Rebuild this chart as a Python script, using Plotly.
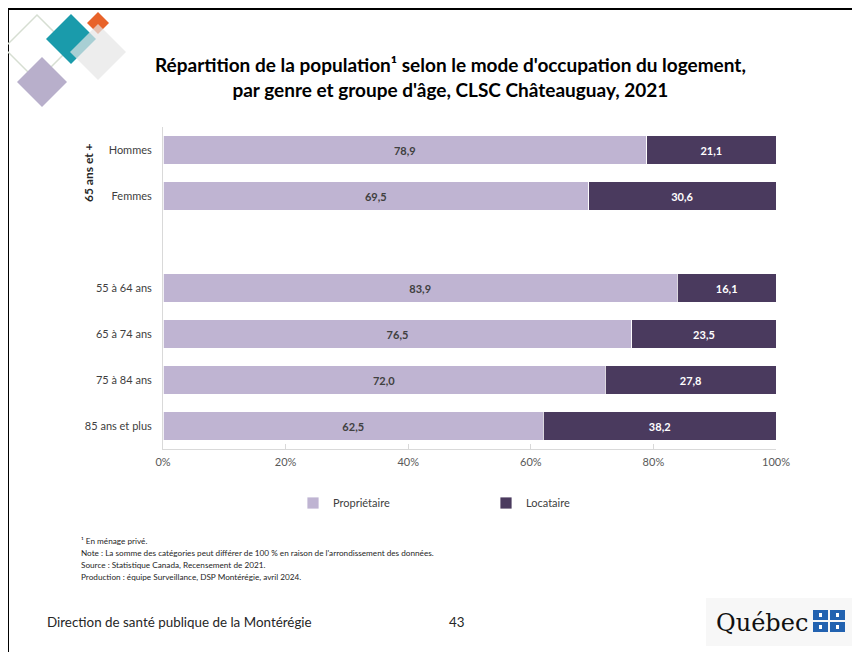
import plotly.graph_objects as go

# ---------------- data ----------------
categories = ["Hommes", "Femmes", " ", "55 à 64 ans", "65 à 74 ans", "75 à 84 ans", "85 ans et plus"]
proprietaire = [78.9, 69.5, None, 83.9, 76.5, 72.0, 62.5]
locataire = [21.1, 30.6, None, 16.1, 23.5, 27.8, 38.2]
series_names = ["Propriétaire", "Locataire"]
x_ticks = [0, 20, 40, 60, 80, 100]
x_ticktext = ["0%", "20%", "40%", "60%", "80%", "100%"]

title_text = ("Répartition de la population¹ selon le mode d'occupation du logement,<br>"
              "par genre et groupe d'âge, CLSC Châteauguay, 2021")
group_label = "65 ans et +"
footnotes = [
    "¹ En ménage privé.",
    "Note : La somme des catégories peut différer de 100 % en raison de l'arrondissement des données.",
    "Source : Statistique Canada, Recensement de 2021.",
    "Production : équipe Surveillance, DSP Montérégie, avril 2024.",
]
footer_left = "Direction de santé publique de la Montérégie"
page_number = "43"

# ---------------- layout helpers ----------------
OFF = 8  # page body margin
W, H = 852, 644
ML, MR, MT, MB = 155, 84, 119, 203
PW, PH = W - ML - MR, H - MT - MB
FONT = "Lato"
LIGHT = "#BFB4D2"
DARK = "#4A3A5E"


def px(x):  # screen pixel -> paper
    return (x - OFF - ML) / PW


def py(y):
    return (H - MB - (y - OFF)) / PH


def fmt(v):
    return "" if v is None else f"{v:.1f}".replace(".", ",")


fig = go.Figure()
fig.add_trace(go.Bar(
    y=categories, x=proprietaire, orientation="h", name=series_names[0],
    marker=dict(color=LIGHT, line=dict(color="white", width=0.8)),
    text=[fmt(v) for v in proprietaire], textposition="inside",
    insidetextanchor="middle", textangle=0,
    textfont=dict(family=FONT, size=11, color="#404040", weight="bold"),
    hoverinfo="skip",
))
fig.add_trace(go.Bar(
    y=categories, x=locataire, orientation="h", name=series_names[1],
    marker=dict(color=DARK, line=dict(color="white", width=0.8)),
    text=[fmt(v) for v in locataire], textposition="inside",
    insidetextanchor="middle", textangle=0,
    textfont=dict(family=FONT, size=11, color="white", weight="bold"),
    hoverinfo="skip",
))

shapes = []
annotations = []

# outer slide frame
shapes.append(dict(type="rect", xref="paper", yref="paper",
                   x0=px(8), x1=px(857), y0=py(664), y1=py(9),
                   line=dict(color="black", width=2), fillcolor="rgba(0,0,0,0)", layer="below"))


def diamond(cx, cy, r, fill=None, line=None, opacity=1.0):
    path = (f"M {px(cx)},{py(cy - r)} L {px(cx + r)},{py(cy)} "
            f"L {px(cx)},{py(cy + r)} L {px(cx - r)},{py(cy)} Z")
    d = dict(type="path", xref="paper", yref="paper", path=path, opacity=opacity,
             fillcolor=fill if fill else "rgba(0,0,0,0)",
             line=dict(color=line if line else "rgba(0,0,0,0)", width=1.5 if line else 0))
    shapes.append(d)


# decorative logo, top-left
diamond(37, 48, 33, line="#D6DED2")
diamond(42, 82, 25, fill="#B8AFCB")
diamond(71, 39, 25, fill="#1A9BAB")
diamond(98, 23, 11, fill="#E8632A")
diamond(98, 52, 28, fill="#E6E6E6", opacity=0.7)

# Québec logo box
shapes.append(dict(type="rect", xref="paper", yref="paper",
                   x0=px(706), x1=px(855), y0=py(646), y1=py(598),
                   fillcolor="#F7F7F7", line=dict(width=0), layer="below"))
for (x0, y0) in [(813, 610), (830, 610), (813, 622), (830, 622)]:
    shapes.append(dict(type="rect", xref="paper", yref="paper",
                       x0=px(x0), x1=px(x0 + 15), y0=py(y0 + 10), y1=py(y0),
                       fillcolor="#2262B0", line=dict(width=0)))
    shapes.append(dict(type="rect", xref="paper", yref="paper",
                       x0=px(x0 + 6), x1=px(x0 + 9), y0=py(y0 + 7), y1=py(y0 + 3),
                       fillcolor="white", line=dict(width=0)))

# title
annotations.append(dict(text="<b>" + title_text + "</b>", xref="paper", yref="paper",
                        x=px(450), y=py(77), xanchor="center", yanchor="middle",
                        showarrow=False, align="center",
                        font=dict(family=FONT, size=19, color="black")))
# group label
annotations.append(dict(text="<b>" + group_label + "</b>", xref="paper", yref="paper",
                        x=px(88), y=py(173), xanchor="center", yanchor="middle",
                        showarrow=False, textangle=-90,
                        font=dict(family=FONT, size=12, color="#262626")))
# footnotes
for i, t in enumerate(footnotes):
    annotations.append(dict(text=t, xref="paper", yref="paper",
                            x=px(79), y=py(541 + 12 * i), xanchor="left", yanchor="middle",
                            showarrow=False, font=dict(family=FONT, size=8.2, color="#262626")))
# footer
annotations.append(dict(text=footer_left, xref="paper", yref="paper",
                        x=px(45), y=py(622), xanchor="left", yanchor="middle",
                        showarrow=False, font=dict(family=FONT, size=13.4, color="#262626")))
annotations.append(dict(text=page_number, xref="paper", yref="paper",
                        x=px(457), y=py(622), xanchor="center", yanchor="middle",
                        showarrow=False, font=dict(family=FONT, size=13.4, color="#262626")))
annotations.append(dict(text="Québec", xref="paper", yref="paper",
                        x=px(810), y=py(623), xanchor="right", yanchor="middle",
                        showarrow=False, font=dict(family="DejaVu Serif", size=24, color="#111111")))

fig.update_layout(
    width=W, height=H,
    margin=dict(l=ML, r=MR, t=MT, b=MB, pad=0),
    paper_bgcolor="white", plot_bgcolor="white",
    barmode="stack", barnorm="percent", bargap=0.39,
    font=dict(family=FONT, size=11, color="#404040"),
    showlegend=True,
    legend=dict(orientation="h", x=px(293), y=py(503), xanchor="left", yanchor="middle",
                entrywidth=148, entrywidthmode="pixels", itemwidth=30,
                font=dict(family=FONT, size=11, color="#404040"),
                bgcolor="rgba(0,0,0,0)", borderwidth=0, traceorder="normal"),
    shapes=shapes, annotations=annotations,
)
fig.update_xaxes(range=[0, 100], tickmode="array", tickvals=x_ticks, ticktext=x_ticktext,
                 showgrid=False, zeroline=False, showline=True, linecolor="#D9D9D9", linewidth=1,
                 ticks="inside", ticklen=5, tickcolor="#D9D9D9", ticklabelstandoff=3,
                 tickfont=dict(family=FONT, size=11, color="#595959"), fixedrange=True)
fig.update_yaxes(type="category", categoryorder="array", categoryarray=categories,
                 range=[6.5, -0.5], showgrid=False, zeroline=False,
                 showline=True, linecolor="#D9D9D9", linewidth=1, ticks="",
                 ticklabelstandoff=8,
                 tickfont=dict(family=FONT, size=11, color="#404040"), fixedrange=True)

fig.write_html("out.html")
